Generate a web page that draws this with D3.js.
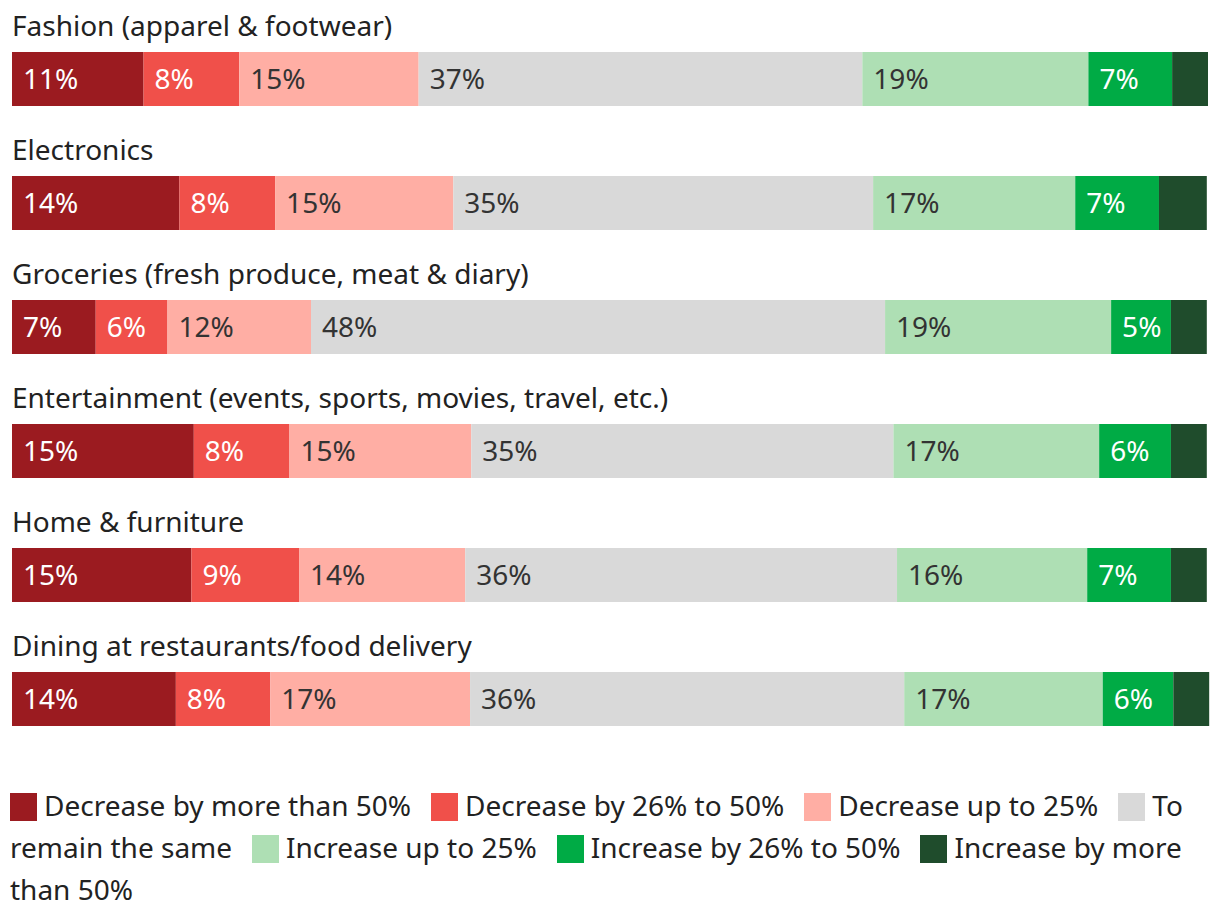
<!DOCTYPE html>
<html>
<head>
<meta charset="utf-8">
<script src="https://cdn.jsdelivr.net/npm/d3@7"></script>
<style>
  body { margin: 0; background: #fff; font-family: "Noto Sans", sans-serif; }
  #chart { position: relative; width: 1220px; height: 924px; }
  #legend {
    position: absolute; left: 10px; top: 784px; width: 1200px;
    font-size: 28px; line-height: 42px; color: #222;
  }
  #legend .sw { display: inline-block; width: 27px; height: 28px; vertical-align: -5px; margin-right: 7px; }
  #legend .item { margin-right: 20px; }
</style>
</head>
<body>
<div id="chart"></div>
<script>
const categories = [
  "Fashion (apparel & footwear)",
  "Electronics",
  "Groceries (fresh produce, meat & diary)",
  "Entertainment (events, sports, movies, travel, etc.)",
  "Home & furniture",
  "Dining at restaurants/food delivery"
];
const seriesNames = [
  "Decrease by more than 50%",
  "Decrease by 26% to 50%",
  "Decrease up to 25%",
  "To remain the same",
  "Increase up to 25%",
  "Increase by 26% to 50%",
  "Increase by more than 50%"
];
// one row per category, in series order
const values = [
  [11, 8, 15, 37.1, 18.9, 7, 3],
  [14, 8, 14.9, 35.1, 16.9, 7, 4],
  [7, 6, 12, 48, 18.9, 5, 3],
  [15.2, 8, 15.2, 35.3, 17.2, 6, 3],
  [15, 9, 13.9, 36.1, 15.9, 7, 3],
  [13.7, 7.9, 16.7, 36.3, 16.6, 5.9, 3]
];
const showLabel = [true, true, true, true, true, true, false];
const colors = ["#9b1b20", "#f0504a", "#ffaea4", "#d9d9d9", "#aedfb4", "#00ab45", "#1f4c2c"];
const textColors = ["#fff", "#fff", "#333", "#333", "#333", "#fff", "#fff"];

const width = 1220, height = 780;
const margin = { left: 12, right: 12, top: 52 };
const barH = 54, step = 124;
const fontSize = 28;

const x = d3.scaleLinear().domain([0, 100]).range([margin.left, width - margin.right]);
const rowTop = c => margin.top + categories.indexOf(c) * step;

const svg = d3.select("#chart").append("svg")
  .attr("width", width).attr("height", height)
  .style("position", "absolute").style("left", 0).style("top", 0);

const rows = svg.selectAll("g.row").data(categories).join("g")
  .attr("class", "row")
  .attr("transform", c => `translate(0,${rowTop(c)})`);

rows.append("text")
  .attr("x", margin.left).attr("y", -16)
  .attr("font-size", fontSize).attr("fill", "#222")
  .text(c => c);

rows.each(function (c, i) {
  const g = d3.select(this);
  let acc = 0;
  const segs = values[i].map((v, k) => {
    const s = { k, v, x0: acc, x1: acc + v };
    acc += v;
    return s;
  });
  g.selectAll("rect").data(segs).join("rect")
    .attr("x", d => x(d.x0))
    .attr("width", d => x(d.x1) - x(d.x0))
    .attr("y", 0).attr("height", barH)
    .attr("fill", d => colors[d.k]);
  g.selectAll("text.lbl").data(segs.filter(d => showLabel[d.k])).join("text")
    .attr("class", "lbl")
    .attr("x", d => x(d.x0) + 11)
    .attr("y", barH / 2)
    .attr("dy", "0.36em")
    .attr("font-size", fontSize)
    .attr("fill", d => textColors[d.k])
    .text(d => Math.round(d.v) + "%");
});

// legend flows like text so it wraps word by word
const legend = d3.select("#chart").append("div").attr("id", "legend");
const items = legend.selectAll("span.item").data(seriesNames).join("span").attr("class", "item");
items.each(function (name, k) {
  const it = d3.select(this);
  it.append("span").attr("class", "sw").style("background", colors[k]);
  it.append(() => document.createTextNode(name));
});
</script>
</body>
</html>
